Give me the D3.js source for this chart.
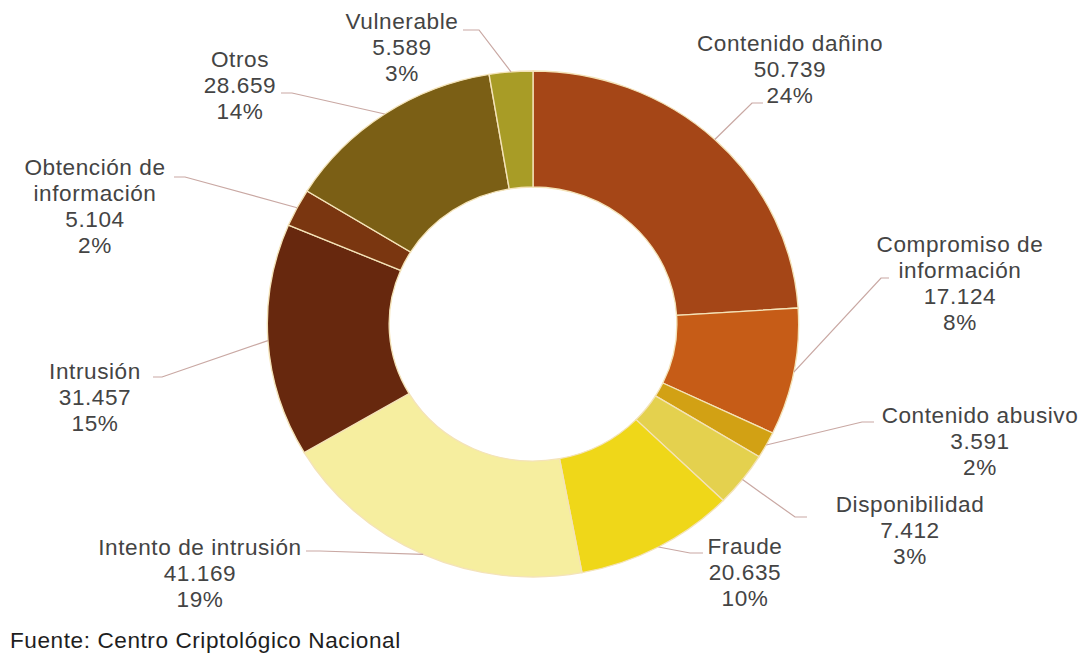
<!DOCTYPE html>
<html>
<head>
<meta charset="utf-8">
<script src="https://cdn.jsdelivr.net/npm/d3@7"></script>
<style>
  body { margin: 0; background: #fff; }
  svg { display: block; }
</style>
</head>
<body>
<div id="chart"></div>
<script>
// Incident categories, clockwise from 12 o'clock
var categories = ["Contenido dañino", "Compromiso de información", "Contenido abusivo",
    "Disponibilidad", "Fraude", "Intento de intrusión", "Intrusión",
    "Obtención de información", "Otros", "Vulnerable"];
var values = [50739, 17124, 3591, 7412, 20635, 41169, 31457, 5104, 28659, 5589];
var percents = [24, 8, 2, 3, 10, 19, 15, 2, 14, 3];
var colors = ["#A54617", "#C65C17", "#D2A114", "#E4D14E", "#EFD719",
    "#F6EE9F", "#67280E", "#7A3610", "#7B5F15", "#A89C26"];
var source = "Fuente: Centro Criptológico Nacional";

var width = 1086, height = 657;
var stretch = 1.05;          // the picture is a bit wider than tall
var cx = 533, cy = 324;
var outerR = 253, innerR = 137;

// label placement in page pixels: centre x, first line centre y, elbow, line end
var labelLayout = {
    "Contenido dañino":          { x: 790, y: 44,  elbow: [752, 103], end: [763, 103] },
    "Compromiso de información": { x: 960, y: 245, elbow: [881, 278], end: [889, 278] },
    "Contenido abusivo":         { x: 980, y: 416, elbow: [862, 422], end: [874, 422] },
    "Disponibilidad":            { x: 910, y: 505, elbow: [795, 517], end: [807, 517] },
    "Fraude":                    { x: 745, y: 547, elbow: [690, 553], end: [703, 553] },
    "Intento de intrusión":      { x: 200, y: 548, elbow: [320, 551], end: [306, 551] },
    "Intrusión":                 { x: 95,  y: 372, elbow: [162, 377], end: [153, 377] },
    "Obtención de información":  { x: 95,  y: 168, elbow: [185, 177], end: [174, 177] },
    "Otros":                     { x: 240, y: 60,  elbow: [292, 93],  end: [281, 93] },
    "Vulnerable":                { x: 402, y: 22,  elbow: [479, 30],  end: [463, 30] }
};
var lineBreaks = {
    "Compromiso de información": ["Compromiso de", "información"],
    "Obtención de información": ["Obtención de", "información"]
};

var data = categories.map((c, i) => ({ name: c, value: values[i], pct: percents[i], color: colors[i] }));

var es = d3.formatLocale({ decimal: ",", thousands: ".", grouping: [3], currency: ["", "€"] });
var fmt = es.format(",");

const svg = d3.select("#chart")
    .append("svg")
    .attr("width", width)
    .attr("height", height);

// everything is drawn in an x-compressed space, then stretched back
var root = svg.append("g").attr("transform", `scale(${stretch},1)`);
var X = px => px / stretch;

var pie = d3.pie().sort(null).value(d => d.value);
var arc = d3.arc().innerRadius(innerR).outerRadius(outerR);
var edge = d3.arc().innerRadius(outerR).outerRadius(outerR);
var arcs = pie(data);

var donut = root.append("g").attr("transform", `translate(${X(cx)},${cy})`);

donut.selectAll("path")
    .data(arcs)
    .join("path")
        .attr("d", arc)
        .attr("fill", d => d.data.color)
        .attr("stroke", "#F4E3B8")
        .attr("stroke-width", 1.3);

// leader lines
root.append("g")
    .selectAll("polyline")
    .data(arcs)
    .join("polyline")
        .attr("fill", "none")
        .attr("stroke", "#C9A8A3")
        .attr("stroke-width", 1.2)
        .attr("points", d => {
            var c = edge.centroid(d);
            var L = labelLayout[d.data.name];
            return [[X(cx) + c[0], cy + c[1]], [X(L.elbow[0]), L.elbow[1]], [X(L.end[0]), L.end[1]]]
                .map(p => p.join(",")).join(" ");
        });

// labels
var lineH = 25.8;
var labels = root.append("g")
    .attr("font-family", "'Liberation Sans', Arial, sans-serif")
    .attr("font-size", 21.5)
    .attr("letter-spacing", 0.55)
    .attr("fill", "#444")
    .attr("text-anchor", "middle");

labels.selectAll("text")
    .data(arcs)
    .join("text")
        .attr("x", d => X(labelLayout[d.data.name].x))
        .attr("y", d => labelLayout[d.data.name].y)
        .each(function (d) {
            var lines = (lineBreaks[d.data.name] || [d.data.name])
                .concat([fmt(d.data.value), d.data.pct + "%"]);
            var t = d3.select(this);
            lines.forEach((s, i) => {
                t.append("tspan")
                    .attr("x", X(labelLayout[d.data.name].x))
                    .attr("y", labelLayout[d.data.name].y + i * lineH)
                    .attr("dominant-baseline", "central")
                    .text(s);
            });
        });

// source note
root.append("text")
    .attr("x", X(10))
    .attr("y", 641)
    .attr("dominant-baseline", "central")
    .attr("font-family", "'Liberation Sans', Arial, sans-serif")
    .attr("font-size", 21.5)
    .attr("letter-spacing", 0.55)
    .attr("fill", "#1E1E1E")
    .text(source);
</script>
</body>
</html>
